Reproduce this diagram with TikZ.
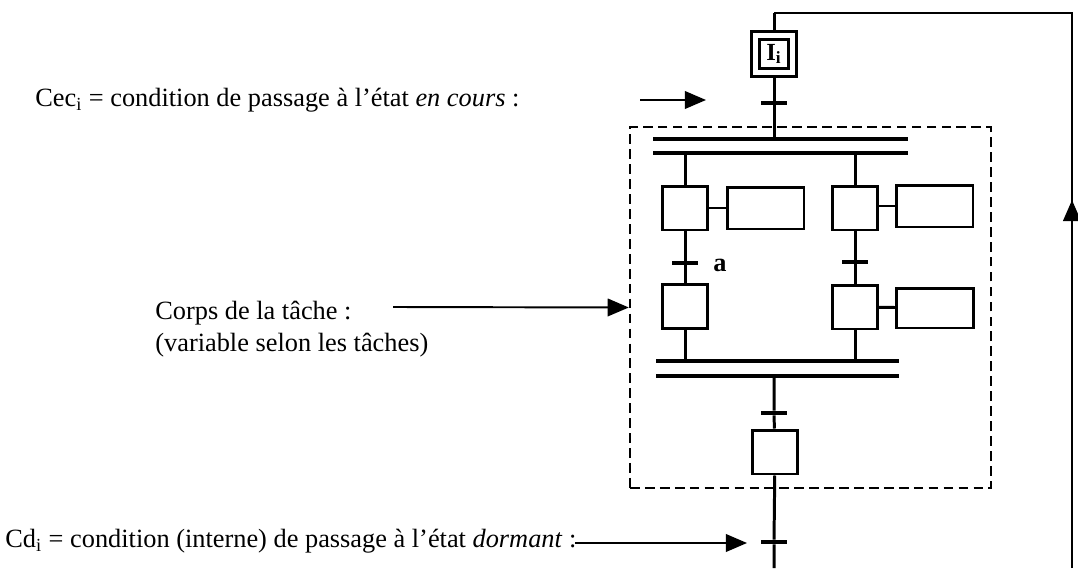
\documentclass[tikz,border=0pt]{standalone}
\usepackage{fontspec}
\setmainfont{Liberation Serif}
\usetikzlibrary{arrows.meta}

\begin{document}
\begin{tikzpicture}[x=0.02cm,y=-0.02cm,
  etape/.style={draw,line width=1.7pt,minimum width=0.9cm,minimum height=0.88cm,inner sep=0pt},
  action/.style={draw,line width=1.7pt,minimum width=1.54cm,minimum height=0.84cm,inner sep=0pt},
  trans/.style={fill=black,minimum width=0.52cm,minimum height=0.08cm,inner sep=0pt},
  barre/.style={fill=black,minimum height=0.065cm,inner sep=0pt},
  trait/.style={line width=1.7pt},
  renvoi/.style={line width=1.1pt,-{Triangle[length=12pt,width=10pt]}},
  txt/.style={font=\fontsize{15}{18}\selectfont,anchor=west,inner sep=0pt}]
\useasboundingbox (0,0) rectangle (1078,568);

% cadre du corps de la tache
\node[draw,line width=1.4pt,dash pattern=on 5.5pt off 3pt,minimum width=7.22cm,minimum height=7.22cm,inner sep=0pt] (corps) at (810.5,307.5) {};

% etape initiale
\node[etape,minimum width=0.9cm,minimum height=0.9cm] (I) at (774,54) {};
\node[draw,line width=1.7pt,minimum size=0.58cm,inner sep=0pt,font=\fontsize{14}{16}\selectfont\bfseries] (Ii) at (I) {I\textsubscript{i}};

% transitions et barres
\node[trans] (t0) at (774,103) {};
\node[barre,minimum width=5.1cm] (D1) at (780.5,139) {};
\node[barre,minimum width=5.1cm] (D2) at (780.5,153) {};
\node[barre,minimum width=4.86cm] (C1) at (777.5,361) {};
\node[barre,minimum width=4.86cm] (C2) at (777.5,376) {};
\node[trans] (ta) at (685,263) {};
\node[trans] (tb) at (855,262) {};
\node[trans] (tc) at (774,413) {};
\node[trans] (td) at (774,542) {};
\node[font=\fontsize{15}{18}\selectfont\bfseries] (la) at (720,265) {a};

% etapes et actions
\node[etape] (L1) at (685,208) {};
\node[action] (AL1) at (765.5,208) {};
\node[etape] (R1) at (855,208) {};
\node[action] (AR1) at (934.5,206) {};
\node[etape] (L2) at (685,306.5) {};
\node[etape] (R2) at (855,307) {};
\node[action,minimum height=0.8cm] (AR2) at (935,308) {};
\node[etape] (S) at (775,452) {};

% liaisons
\coordinate (haut) at (774,13);
\coordinate (coin) at (1072,13);
\coordinate (bas) at (774,568);
\coordinate (basd) at (1072,568);
\coordinate (fl) at (1072,200);
\draw[trait] (I.north) -- (haut);
\draw[line width=1.5pt] (haut) -- (coin) -- (basd);
\draw[line width=1.5pt,-{Triangle[length=12pt,width=10pt]}] (basd) -- (fl);
\draw[trait] (I) -- (t0) -- (t0 |- D1);
\draw[trait] (L1 |- D2) -- (L1) -- (ta) -- (L2) -- (L2 |- C1);
\draw[trait] (R1 |- D2) -- (R1) -- (tb) -- (R2) -- (R2 |- C1);
\draw[trait] (L1) -- (AL1);
\draw[trait] (R1.east |- AR1) -- (AR1);
\draw[trait] (R2) -- (AR2);
\draw[trait] (tc |- C2) -- (tc) -- (S) -- (td) -- (bas);

% textes et renvois
\node[txt] (cec) at (35,100) {Cec\textsubscript{i} = condition de passage à l'état \textit{en cours} :};
\coordinate (a1) at (640,100);
\coordinate (b1) at (706,100);
\draw[renvoi] (a1) -- (b1);
\node[txt,align=left] (cor) at (155,329) {Corps de la tâche :\\(variable selon les tâches)};
\coordinate (a2) at (393,307);
\draw[renvoi] (a2) -- (corps.west);
\node[txt] (cd) at (5,541) {Cd\textsubscript{i} = condition (interne) de passage à l'état \textit{dormant} :};
\coordinate (a3) at (575,543);
\coordinate (b3) at (747,543);
\draw[renvoi] (a3) -- (b3);
\end{tikzpicture}
\end{document}
